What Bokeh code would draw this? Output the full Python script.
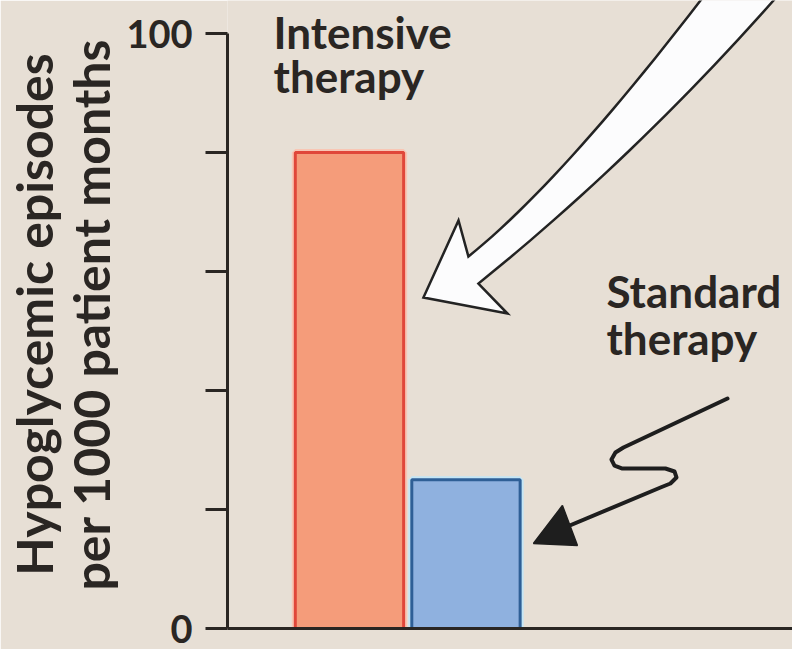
from bokeh.plotting import figure
from bokeh.models import Range1d, FixedTicker
from bokeh.core.properties import value
from bokeh.embed import file_html
from bokeh.resources import INLINE

# Hypoglycemic episodes per 1000 patient months, by treatment arm
categories = ["Intensive therapy", "Standard therapy"]
episodes = [80, 25]
bar_fill = ["#f59c7a", "#8fb1df"]
bar_edge = ["#e0473a", "#2f5f96"]
bar_halo = ["#f8c6b4", "#c4e6f6"]

y_ticks = [0, 20, 40, 60, 80, 100]
y_tick_text = {0: "0", 20: "", 40: "", 60: "", 80: "", 100: "100"}

BG = "#e7dfd5"
INK = "#2a2623"
FONT = "Lato"

positions = [i + 1 for i in range(len(categories))]

p = figure(
    width=792, height=649,
    x_range=Range1d(-0.047, 4.803), y_range=Range1d(0, 105.55),
    output_backend="svg", toolbar_location=None,
    min_border_left=227, min_border_right=0, min_border_top=0, min_border_bottom=21,
    background_fill_color=BG, border_fill_color=BG,
)
p.outline_line_color = None
p.grid.visible = False

# y axis: short outward ticks, only the ends labelled
ya = p.yaxis[0]
ya.bounds = (0, 100)
ya.ticker = FixedTicker(ticks=y_ticks)
ya.major_label_overrides = y_tick_text
ya.minor_tick_line_color = None
ya.major_tick_in = 0
ya.major_tick_out = 22
ya.major_tick_line_width = 3
ya.major_tick_line_color = INK
ya.axis_line_width = 3
ya.axis_line_color = INK
ya.major_label_standoff = 13
ya.major_label_text_font = FONT
ya.major_label_text_font_style = "bold"
ya.major_label_text_font_size = "38px"
ya.major_label_text_color = INK
ya.axis_label = "Hypoglycemic episodes\nper 1000 patient months"
ya.axis_label_text_font = FONT
ya.axis_label_text_font_style = "bold"
ya.axis_label_text_font_size = "50px"
ya.axis_label_text_line_height = 0.95
ya.axis_label_text_color = INK
ya.axis_label_standoff = 2

# x axis: plain baseline
xa = p.xaxis[0]
xa.ticker = FixedTicker(ticks=[])
xa.minor_tick_line_color = None
xa.major_tick_line_color = None
xa.axis_line_width = 3
xa.axis_line_color = INK

# bars with a soft halo around the outline
p.vbar(x=positions, top=episodes, bottom=0, width=0.93,
       fill_color=None, line_color=bar_halo, line_width=7)
p.vbar(x=positions, top=episodes, bottom=0, width=0.93,
       fill_color=bar_fill, line_color=bar_edge, line_width=3)


def quad_curve(p0, c, p2, n=24):
    """Points along a quadratic Bezier from p0 to p2 with control point c."""
    pts = []
    for i in range(n + 1):
        t = i / n
        a, b, d = (1 - t) ** 2, 2 * (1 - t) * t, t ** 2
        pts.append((a * p0[0] + b * c[0] + d * p2[0],
                    a * p0[1] + b * c[1] + d * p2[1]))
    return pts


# large white arrow pointing at the intensive-therapy bar
shaft_left = quad_curve((4.013, 105.55), (2.811, 74.96), (2.021, 62.52))
shaft_right = quad_curve((4.640, 105.55), (3.433, 78.91), (2.107, 57.98))
head = [(1.936, 68.57), (1.635, 55.63), (2.356, 52.94)]
outline = ([(4.082, 107.3)] + shaft_left + head + shaft_right[::-1]
           + [(4.717, 107.3)])
p.patch([q[0] for q in outline], [q[1] for q in outline],
        fill_color="#fcfcfd", line_color="#232323",
        line_width=2.5, line_join="miter")

# squiggly arrow pointing at the standard-therapy bar
squig_x = [4.245, 3.352, 3.283, 3.249, 3.275, 3.343, 3.712, 3.790, 3.807,
           3.755, 3.670, 2.768]
squig_y = [38.66, 30.42, 29.58, 28.40, 27.39, 26.89, 26.89, 26.39, 25.38,
           24.37, 23.70, 16.30]
p.line(squig_x, squig_y, line_color="#1e1e1e", line_width=4,
       line_join="round", line_cap="round")
p.patch([2.579, 2.828, 2.957], [14.29, 20.67, 13.95],
        fill_color="#1e1e1e", line_color="#1e1e1e", line_width=1.5)

# category captions
cap_x = [0.348, 0.348, 3.206, 3.206]
cap_y = [100.3, 92.9, 56.8, 48.8]
cap_text = ["Intensive", "therapy", "Standard", "therapy"]
p.text(cap_x, cap_y, text=cap_text, text_font=value(FONT),
       text_font_style="bold", text_font_size="44px", text_color=INK,
       text_align="left", text_baseline="alphabetic")

open("out.html", "w").write(file_html(p, INLINE))
